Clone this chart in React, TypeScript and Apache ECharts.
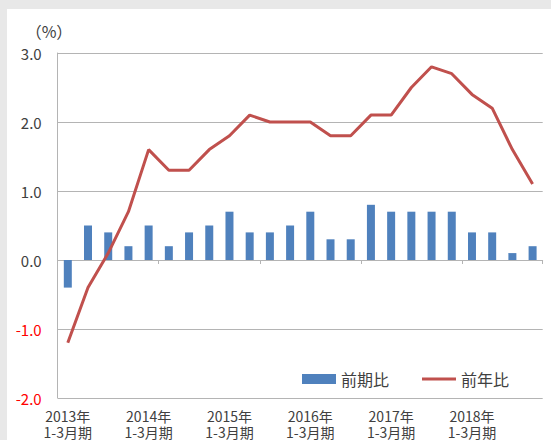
import React, { useEffect, useRef } from "react";
import * as echarts from "echarts";

const quarters = [
  "2013年\n1-3月期", "2013Q2", "2013Q3", "2013Q4",
  "2014年\n1-3月期", "2014Q2", "2014Q3", "2014Q4",
  "2015年\n1-3月期", "2015Q2", "2015Q3", "2015Q4",
  "2016年\n1-3月期", "2016Q2", "2016Q3", "2016Q4",
  "2017年\n1-3月期", "2017Q2", "2017Q3", "2017Q4",
  "2018年\n1-3月期", "2018Q2", "2018Q3", "2018Q4",
];

const qoq = [
  -0.4, 0.5, 0.4, 0.2,
  0.5, 0.2, 0.4, 0.5,
  0.7, 0.4, 0.4, 0.5,
  0.7, 0.3, 0.3, 0.8,
  0.7, 0.7, 0.7, 0.7,
  0.4, 0.4, 0.1, 0.2,
];

const yoy = [
  -1.2, -0.4, 0.1, 0.7,
  1.6, 1.3, 1.3, 1.6,
  1.8, 2.1, 2.0, 2.0,
  2.0, 1.8, 1.8, 2.1,
  2.1, 2.5, 2.8, 2.7,
  2.4, 2.2, 1.6, 1.1,
];

const seriesNames = ["前期比", "前年比"];
const unitLabel = "（%）";

const FONT = "'Noto Sans CJK JP', 'Noto Sans', sans-serif";
const TEXT = "#404040";
const GRID = "#b4b4b4";
const BAR = "#4f81bd";
const LINE = "#c0504d";

export default function App() {
  const ref = useRef<HTMLDivElement>(null);

  useEffect(() => {
    if (!ref.current) return;
    const chart = echarts.init(ref.current, undefined, { renderer: "svg" });
    chart.setOption({
      animation: false,
      backgroundColor: "transparent",
      textStyle: { fontFamily: FONT },
      grid: { left: 57.7, right: 8.3, top: 53, bottom: 38.3, containLabel: false },
      graphic: [
        {
          type: "text",
          x: 49,
          y: 31,
          style: {
            text: unitLabel,
            fontSize: 16,
            fontFamily: FONT,
            fill: TEXT,
            textAlign: "center",
            textVerticalAlign: "middle",
          },
        },
      ],
      legend: {
        left: 297,
        top: 366,
        itemWidth: 34,
        itemHeight: 10,
        itemGap: 33,
        textStyle: { fontSize: 16, color: TEXT, fontFamily: FONT },
        data: [
          { name: seriesNames[0], icon: "rect" },
          { name: seriesNames[1], icon: "path://M0,0 L35,0 L35,3 L0,3 Z" },
        ],
      },
      xAxis: [
        {
          type: "category",
          data: quarters,
          position: "bottom",
          axisLine: { show: false, onZero: false },
          axisTick: { show: false },
          splitLine: { show: false },
          axisLabel: {
            interval: 3,
            margin: 10,
            fontSize: 14,
            lineHeight: 16,
            color: TEXT,
            fontFamily: FONT,
          },
        },
        {
          type: "category",
          data: quarters,
          position: "bottom",
          axisLine: { show: true, onZero: true, lineStyle: { color: GRID, width: 1 } },
          axisTick: { show: true, interval: 4, length: 4, lineStyle: { color: GRID } },
          axisLabel: { show: false },
          splitLine: { show: false },
        },
      ],
      yAxis: {
        type: "value",
        min: -2,
        max: 3,
        interval: 1,
        axisLine: { show: true, lineStyle: { color: GRID } },
        axisTick: { show: false },
        splitLine: { show: true, lineStyle: { color: GRID, width: 1 } },
        axisLabel: {
          margin: 16,
          fontSize: 15,
          color: TEXT,
          fontFamily: FONT,
          formatter: (v: number) =>
            v < 0 ? `{r|${v.toFixed(1)}}` : v.toFixed(1),
          rich: {
            r: { color: "#ff0000", fontSize: 15, fontFamily: FONT },
          },
        },
      },
      series: [
        {
          name: seriesNames[0],
          type: "bar",
          xAxisIndex: 0,
          data: qoq,
          barWidth: 8,
          itemStyle: { color: BAR },
        },
        {
          name: seriesNames[1],
          type: "line",
          xAxisIndex: 0,
          data: yoy,
          symbol: "none",
          lineStyle: { color: LINE, width: 3 },
          itemStyle: { color: LINE },
        },
      ],
    });
    return () => chart.dispose();
  }, []);

  return (
    <div
      style={{
        position: "fixed",
        left: 0,
        top: 0,
        width: 551,
        height: 440,
        background: "#e8e8e8",
        overflow: "hidden",
      }}
    >
      <div
        style={{
          position: "absolute",
          left: 7,
          top: 9,
          right: 0,
          bottom: 0,
          background: "#ffffff",
        }}
      />
      <div
        ref={ref}
        style={{ position: "absolute", left: 0, top: 0, width: 551, height: 440 }}
      />
    </div>
  );
}
